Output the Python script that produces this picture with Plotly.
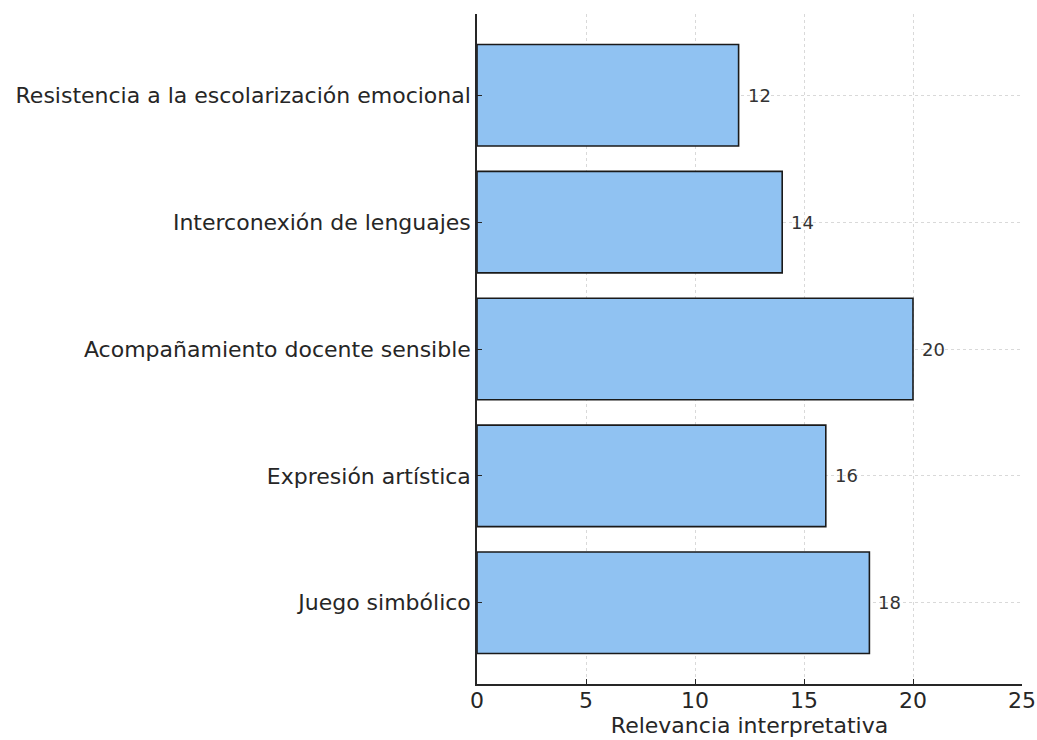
import plotly.graph_objects as go

categories = ["Juego simbólico", "Expresión artística", "Acompañamiento docente sensible",
              "Interconexión de lenguajes", "Resistencia a la escolarización emocional"]
values = [18, 16, 20, 14, 12]
x_ticks = [0, 5, 10, 15, 20, 25]
x_title = "Relevancia interpretativa"

font_family = "DejaVu Sans"
text_color = "#262626"

fig = go.Figure()
fig.add_trace(go.Bar(
    x=values, y=categories, orientation="h", width=0.8,
    marker=dict(color="#90C2F2", line=dict(color="#1a1a1a", width=1.6)),
    hoverinfo="skip",
))

annotations = [
    dict(x=v, y=c, text=str(v), xanchor="left", yanchor="middle", xshift=7,
         showarrow=False, font=dict(family=font_family, size=18, color="#333333"))
    for c, v in zip(categories, values)
]

fig.update_layout(
    width=1037, height=740,
    margin=dict(l=477, r=15, t=14, b=56),
    plot_bgcolor="white", paper_bgcolor="white",
    showlegend=False,
    annotations=annotations,
    font=dict(family=font_family, color=text_color),
    xaxis=dict(
        range=[0, 25], tickvals=x_ticks, ticktext=[str(t) for t in x_ticks],
        showgrid=True, gridcolor="rgba(0,0,0,0.15)", griddash="3px,3px", gridwidth=1,
        showline=True, linecolor="#262626", linewidth=1.5,
        ticks="inside", ticklen=5, tickwidth=1.2, tickcolor="#262626",
        tickfont=dict(size=22, color=text_color), ticklabelstandoff=-4,
        title=dict(text=x_title, font=dict(size=22, color=text_color), standoff=5),
        zeroline=False, layer="above traces", automargin=False,
    ),
    yaxis=dict(
        range=[-0.64, 4.64],
        showgrid=True, gridcolor="rgba(0,0,0,0.15)", griddash="3px,3px", gridwidth=1,
        showline=True, linecolor="#262626", linewidth=1.5,
        ticks="inside", ticklen=5, tickwidth=1.2, tickcolor="#262626",
        tickfont=dict(size=22, color=text_color),
        zeroline=False, layer="above traces", automargin=False,
    ),
)

fig.write_html(
    "out.html",
    config={"displayModeBar": False},
    post_script="document.body.style.margin='0';document.body.style.overflow='hidden';",
)
